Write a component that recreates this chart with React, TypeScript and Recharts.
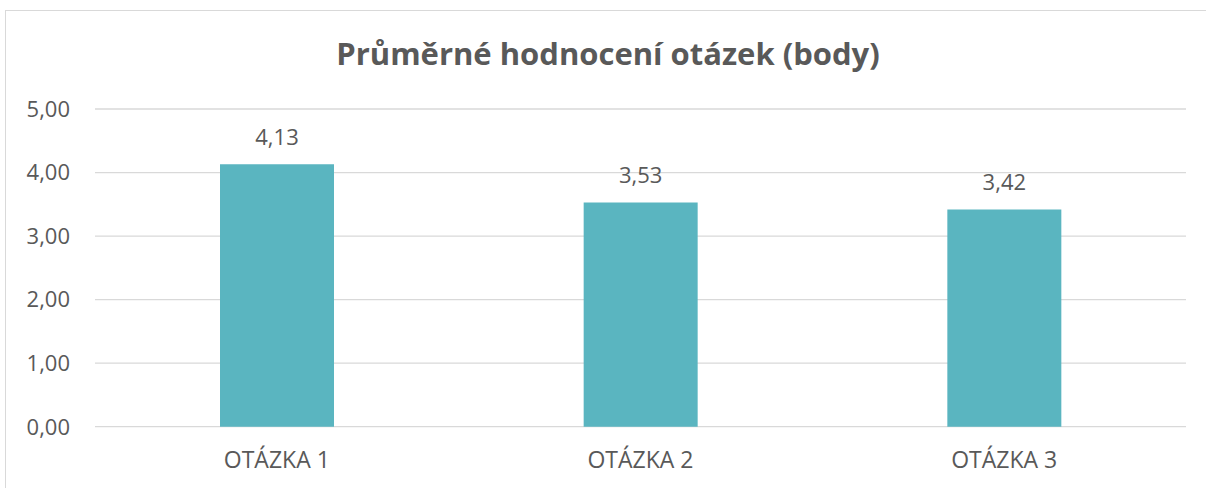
import React from 'react';
import { BarChart, Bar, XAxis, YAxis, CartesianGrid, LabelList } from 'recharts';

const categories = ['OTÁZKA 1', 'OTÁZKA 2', 'OTÁZKA 3'];
const values = [4.13, 3.53, 3.42];
const yTicks = [0, 1, 2, 3, 4, 5];
const title = 'Průměrné hodnocení otázek (body)';

const data = categories.map((name, i) => ({ name, value: values[i] }));
const fmt = (v: number) => v.toFixed(2).replace('.', ',');

const FONT = '"Open Sans", "DejaVu Sans", sans-serif';
const TEXT = '#595959';

export default function App() {
  return (
    <div style={{ position: 'absolute', left: 0, top: 0, width: 1206, height: 488, overflow: 'hidden', background: '#fff', fontFamily: FONT }}>
      <div style={{ position: 'absolute', left: 5, top: 10, width: 1300, height: 600, border: '1px solid #d9d9d9', boxSizing: 'border-box' }} />
      <div style={{ position: 'absolute', left: 0, top: 33, width: 1216, textAlign: 'center', fontSize: 31, fontWeight: 700, color: TEXT, lineHeight: '40px' }}>
        {title}
      </div>
      <div style={{ position: 'absolute', left: 0, top: 0 }}>
        <BarChart width={1206} height={488} data={data} margin={{ top: 109, right: 20, left: 15, bottom: 21.3 }}>
          <CartesianGrid vertical={false} stroke="#d9d9d9" strokeWidth={1.3} />
          <XAxis
            dataKey="name"
            axisLine={false}
            tickLine={false}
            height={40}
            tickMargin={19}
            tick={{ fill: TEXT, fontSize: 23, fontFamily: FONT }}
          />
          <YAxis
            domain={[0, 5]}
            ticks={yTicks}
            width={80}
            axisLine={false}
            tickLine={false}
            tickMargin={19}
            tickFormatter={fmt}
            tick={{ fill: TEXT, fontSize: 22, fontFamily: FONT }}
          />
          <Bar dataKey="value" fill="#5AB5C0" barSize={114} isAnimationActive={false}>
            <LabelList dataKey="value" position="top" offset={19} formatter={(v: any) => fmt(Number(v))} fill={TEXT} fontSize={22} fontFamily={FONT} />
          </Bar>
        </BarChart>
      </div>
    </div>
  );
}
